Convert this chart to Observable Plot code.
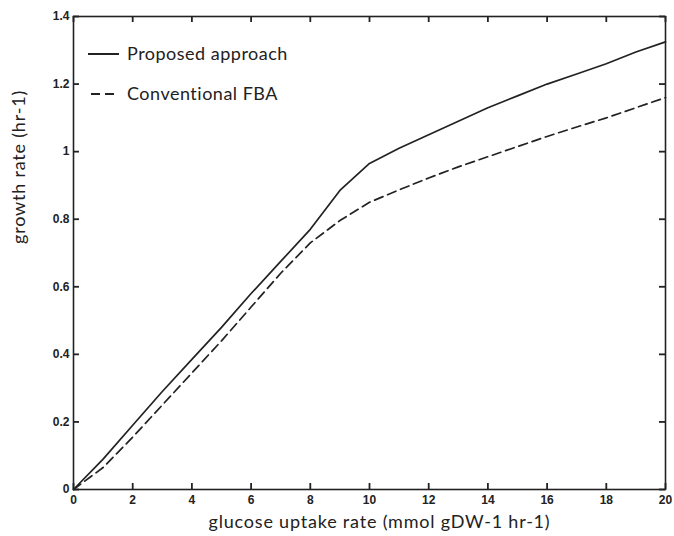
<!DOCTYPE html>
<html>
<head>
<meta charset="utf-8">
<script src="https://cdn.jsdelivr.net/npm/d3@7"></script>
<script src="https://cdn.jsdelivr.net/npm/@observablehq/plot@0.6"></script>
<style>
  html, body { margin: 0; padding: 0; background: #fff; }
</style>
</head>
<body>
<div id="chart"></div>
<script>
const glucose = [0, 1, 2, 3, 4, 5, 6, 7, 8, 9, 10, 11, 12, 13, 14, 15, 16, 17, 18, 19, 20];
const proposed = [0, 0.09, 0.19, 0.29, 0.385, 0.48, 0.58, 0.675, 0.77, 0.885, 0.965, 1.01, 1.05, 1.09, 1.13, 1.165, 1.2, 1.23, 1.26, 1.295, 1.325];
const conventional = [0, 0.065, 0.155, 0.25, 0.345, 0.44, 0.54, 0.64, 0.73, 0.796, 0.85, 0.887, 0.922, 0.955, 0.985, 1.015, 1.045, 1.073, 1.10, 1.13, 1.16];
const seriesNames = ["Proposed approach", "Conventional FBA"];
const xTicks = [0, 2, 4, 6, 8, 10, 12, 14, 16, 18, 20];
const yTicks = [0, 0.2, 0.4, 0.6, 0.8, 1, 1.2, 1.4];
const xLabel = "glucose uptake rate (mmol gDW-1 hr-1)";
const yLabel = "growth rate (hr-1)";

const rows = [];
glucose.forEach((g, i) => {
  rows.push({x: g, y: proposed[i], series: seriesNames[0]});
  rows.push({x: g, y: conventional[i], series: seriesNames[1]});
});

const W = 674, H = 536, mL = 73, mR = 9, mT = 16, mB = 47;
const frameW = W - mL - mR, frameH = H - mT - mB, tickLen = 6;

const ink = "#222";
const labelFont = "Lato, 'Open Sans', sans-serif";
const tickFont = "'Liberation Sans', Arial, sans-serif";
const dash = "9,5";

function legend(index, scales, values, dim) {
  const g = d3.create("svg:g");
  const x0 = dim.marginLeft + 15;
  const y0 = dim.marginTop + 38;
  seriesNames.forEach((name, i) => {
    const y = y0 + i * 40;
    g.append("line")
      .attr("x1", x0 + (i === 1 ? 3 : 0)).attr("x2", x0 + 31)
      .attr("y1", y).attr("y2", y)
      .attr("stroke", ink).attr("stroke-width", 2)
      .attr("stroke-dasharray", i === 1 ? "9,5" : null);
    g.append("text")
      .attr("x", x0 + 39).attr("y", y)
      .attr("dy", "0.35em")
      .attr("text-anchor", "start")
      .attr("fill", ink)
      .style("font-family", labelFont)
      .style("font-size", "18px")
      .style("letter-spacing", "0.5px")
      .text(name);
  });
  return g.node();
}

const chart = Plot.plot({
  width: W,
  height: H,
  marginLeft: mL,
  marginRight: mR,
  marginTop: mT,
  marginBottom: mB,
  style: {background: "#fff", color: ink, overflow: "visible"},
  x: {domain: [0, 20]},
  y: {domain: [0, 1.4]},
  marks: [
    Plot.line(rows.filter(d => d.series === seriesNames[0]), {x: "x", y: "y", stroke: ink, strokeWidth: 1.7}),
    Plot.line(rows.filter(d => d.series === seriesNames[1]), {x: "x", y: "y", stroke: ink, strokeWidth: 1.7, strokeDasharray: dash}),
    Plot.axisX({ticks: xTicks, tickSize: 0, tickPadding: 6, label: null, tickFormat: d => String(d),
      fontFamily: tickFont, fontWeight: "bold", fontSize: 12, fill: ink}),
    Plot.axisY({ticks: yTicks, tickSize: 0, tickPadding: 4, label: null, tickFormat: d => String(d),
      fontFamily: tickFont, fontWeight: "bold", fontSize: 12, fill: ink}),
    Plot.tickX(xTicks, {x: d => d, insetTop: frameH - tickLen, stroke: ink, strokeWidth: 1.8}),
    Plot.tickX(xTicks, {x: d => d, insetBottom: frameH - tickLen, stroke: ink, strokeWidth: 1.8}),
    Plot.tickY(yTicks, {y: d => d, insetRight: frameW - tickLen, stroke: ink, strokeWidth: 1.8}),
    Plot.tickY(yTicks, {y: d => d, insetLeft: frameW - tickLen, stroke: ink, strokeWidth: 1.8}),
    Plot.frame({stroke: ink, strokeWidth: 1.6}),
    Plot.text([xLabel], {frameAnchor: "bottom", dy: 33, dx: 10, text: d => d,
      fontFamily: labelFont, fontSize: 18, fill: ink, lineAnchor: "middle"}),
    Plot.text([yLabel], {frameAnchor: "left", dx: -54, dy: -9, rotate: -90, text: d => d,
      fontFamily: labelFont, fontSize: 18, fill: ink, lineAnchor: "middle"}),
    legend
  ]
});
chart.querySelectorAll("text").forEach(t => {
  if (t.textContent === xLabel || t.textContent === yLabel) t.style.letterSpacing = "0.8px";
});
document.getElementById("chart").appendChild(chart);
</script>
</body>
</html>
